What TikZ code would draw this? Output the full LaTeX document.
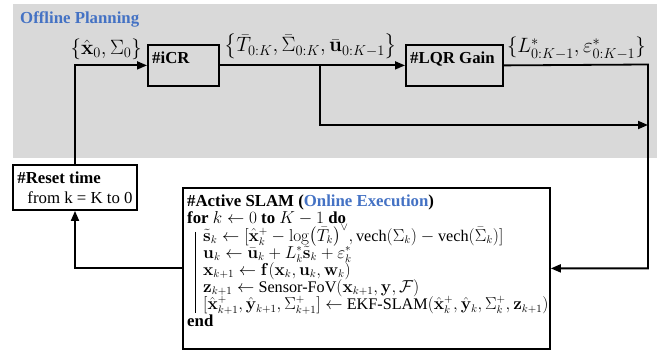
\documentclass[tikz,border=0pt]{standalone}
\usepackage{amsmath,amssymb}
\usepackage[no-math]{fontspec}
\setmainfont{Liberation Serif}
\usetikzlibrary{arrows.meta,positioning,calc}
\definecolor{planblue}{RGB}{68,114,196}
\definecolor{plangray}{RGB}{217,217,217}
\newcommand{\algsize}{\fontsize{16.8}{17.1}\selectfont}
\newcommand{\tightlines}{\lineskiplimit=-1000pt\relax\lineskip=0pt\relax}

\begin{document}
\begin{tikzpicture}[x=1pt,y=-1pt,
  every node/.style={font=\fontsize{16.8}{17.2}\selectfont},
  planbg/.style={fill=plangray,draw=none,anchor=north west,inner sep=0pt},
  blk/.style={draw,line width=1.8pt,anchor=north west,inner sep=0pt,
              minimum height=41pt},
  txt/.style={anchor=north west,inner sep=3pt,align=left},
  lbl/.style={inner sep=1pt,font=\fontsize{21}{23}\selectfont},
  arr/.style={-{Triangle[length=10pt,width=8pt]},line width=1.8pt},
]
\useasboundingbox (0,0) rectangle (661,352);

%% Offline planning area
\node[planbg,minimum width=644pt,minimum height=154pt] (offline) at (13,4) {};
\node[anchor=base west,inner sep=2pt,text=planblue,font=\fontsize{16.8}{17}\selectfont\bfseries]
  (offtitle) at (18,24) {Offline Planning};

%% Planning blocks
\node[blk,minimum width=71pt] (icr) at (147,44) {};
\node[txt,font=\fontsize{16.8}{17}\selectfont\bfseries] (icrtxt)
  at ([shift={(2,5)}]icr.north west) {\#iCR};
\node[blk,minimum width=97pt] (lqr) at (405,44) {};
\node[txt,font=\fontsize{16.8}{17}\selectfont\bfseries] (lqrtxt)
  at ([shift={(2,5)}]lqr.north west) {\#LQR Gain};

%% Reset block
\node[draw,line width=1.8pt,minimum width=124pt,minimum height=45pt,align=left,
      inner sep=0pt] (reset) at (75,187.5)
  {\textbf{\#Reset time}\\[3pt]\hspace{10pt}from k = K to 0};

%% Online execution block
\node[blk,minimum width=367pt,minimum height=161pt] (slam) at (182,187) {};
\node[txt,font=\fontsize{16.2}{17.1}\selectfont\tightlines]
  (slamtxt) at ([shift={(2,5)}]slam.north west)
  {\algsize\textbf{\#Active SLAM (}\textcolor{planblue}{\textbf{Online Execution}}\textbf{)}\\
   \algsize\textbf{for} $k \leftarrow 0$ \textbf{to} $K-1$ \textbf{do}\\
   \hspace{16pt}$\tilde{\mathbf{s}}_k \leftarrow [\hat{\mathbf{x}}_k^+ - \log\bigl(\bar{T}_k\bigr)^{\vee}, \text{vech}(\Sigma_k) - \text{vech}(\bar{\Sigma}_k)]$\\
   \hspace{16pt}$\mathbf{u}_k \leftarrow \bar{\mathbf{u}}_k + L_k^*\tilde{\mathbf{s}}_k + \varepsilon_k^*$\\
   \hspace{16pt}$\mathbf{x}_{k+1} \leftarrow \mathbf{f}(\mathbf{x}_k, \mathbf{u}_k, \mathbf{w}_k)$\\
   \hspace{16pt}$\mathbf{z}_{k+1} \leftarrow$ Sensor-FoV$(\mathbf{x}_{k+1}, \mathbf{y}, \mathcal{F})$\\
   \hspace{16pt}$[\hat{\mathbf{x}}_{k+1}^+, \hat{\mathbf{y}}_{k+1}, \Sigma_{k+1}^+] \leftarrow$ EKF-SLAM$(\hat{\mathbf{x}}_k^+, \hat{\mathbf{y}}_k, \Sigma_k^+, \mathbf{z}_{k+1})$\\
   \algsize\textbf{end}};
\draw[line width=0.6pt] ([shift={(13,45)}]slam.north west) -- ++(0,81);

%% Signal labels
\node[lbl,anchor=base east] (initlbl) at ([shift={(-4,-11)}]icr.west)
  {$\{\hat{\mathbf{x}}_0, \Sigma_0\}$};
\node[lbl,anchor=base west] (reflbl) at ([shift={(3,-13.5)}]icr.east)
  {$\left\{\bar{T}_{0:K}, \bar{\Sigma}_{0:K}, \bar{\mathbf{u}}_{0:K-1}\right\}$};
\node[lbl,anchor=base west] (gainlbl) at ([shift={(2,-12.5)}]lqr.east)
  {$\{L^*_{0:K-1}, \varepsilon^*_{0:K-1}\}$};

%% Connectors
\coordinate (split) at (320,64.5);
\coordinate (rturn) at (648,64.5);
\coordinate (merge) at (648,125);
\draw[arr] (icr.east) -- (lqr.west);
\draw[arr] (split) |- (merge);
\draw[arr] (lqr.east) -- (rturn) |- (slam.east);
\draw[arr] (slam.west) -| (reset.south);
\draw[arr] (reset.north) |- (icr.west);

\end{tikzpicture}
\end{document}
